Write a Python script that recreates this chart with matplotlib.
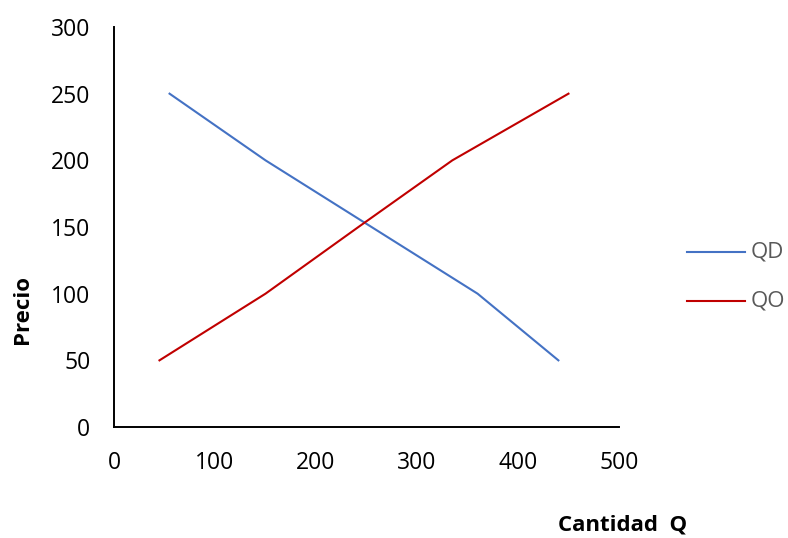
import matplotlib
matplotlib.use("Agg")
import matplotlib.pyplot as plt
from matplotlib.lines import Line2D

plt.rcParams['font.family'] = ['Open Sans', 'DejaVu Sans']

# demanda
qd_cantidad = [55, 150, 255, 360, 440]
qd_precio = [250, 200, 150, 100, 50]
# oferta
qo_cantidad = [45, 150, 242, 335, 450]
qo_precio = [50, 100, 150, 200, 250]

x_ticks = [0, 100, 200, 300, 400, 500]
y_ticks = [0, 50, 100, 150, 200, 250, 300]

series = [('QD', '#4472C4'), ('QO', '#C00000')]

fig = plt.figure(figsize=(7.88, 5.38), dpi=100)
ax = fig.add_axes([0.1447, 0.2063, 0.6408, 0.7435])

ax.plot(qd_cantidad, qd_precio, color=series[0][1], lw=1.5)
ax.plot(qo_cantidad, qo_precio, color=series[1][1], lw=1.5)

ax.set_xlim(0, 500)
ax.set_ylim(0, 300)
ax.set_xticks(x_ticks)
ax.set_yticks(y_ticks)
ax.tick_params(length=0, labelsize=16.5, pad=17)

for s in ['top', 'right']:
    ax.spines[s].set_visible(False)
for s in ['left', 'bottom']:
    ax.spines[s].set_linewidth(1.4)
    ax.spines[s].set_color('black')

fig.text(0.028, 0.424, 'Precio', rotation=90, ha='center', va='center',
         fontsize=16, fontweight='bold')
fig.text(0.79, 0.024, 'Cantidad  Q', ha='center', va='center',
         fontsize=16, fontweight='bold')

# leyenda a mano, a la derecha
for (name, col), yy in zip(series, [0.5316, 0.4405]):
    fig.add_artist(Line2D([0.8718, 0.9454], [yy, yy], color=col, lw=1.5,
                          transform=fig.transFigure))
    fig.text(0.953, yy, name, ha='left', va='center', fontsize=16,
             color='#595959')

fig.savefig('out.png', dpi=100)
